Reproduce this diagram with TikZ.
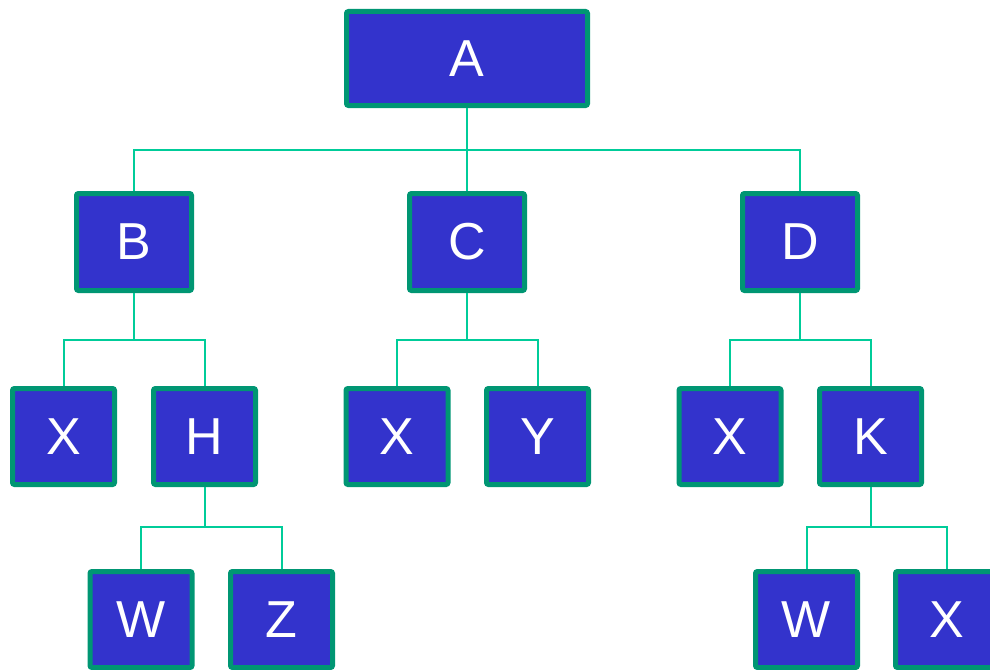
\documentclass[tikz,border=0pt]{standalone}
\usepackage{fontspec}
\setmainfont{Liberation Sans}
\definecolor{boxfill}{RGB}{51,51,204}
\definecolor{boxedge}{RGB}{0,150,115}
\definecolor{wire}{RGB}{0,204,153}
\begin{document}
\begin{tikzpicture}[x=1pt,y=-1pt,
  tnode/.style={draw=boxedge,fill=boxfill,line width=5pt,rounded corners=2pt,
    text=white,font=\fontsize{52}{52}\selectfont,inner sep=0pt,
    minimum height=96pt},
  wide/.style={tnode,minimum width=241pt,minimum height=94pt},
  mid/.style={tnode,minimum width=115pt,minimum height=97pt},
  small/.style={tnode,minimum width=102pt},
  link/.style={draw=wire,line width=2pt}]
\useasboundingbox (0,0) rectangle (990,669);
\clip (0,0) rectangle (990,669);
% level 1
\node[wide] (a) at (467,58.5) {A};
% level 2
\node[mid] (b) at (134,242) {B};
\node[mid] (c) at (467,242) {C};
\node[mid] (d) at (800,242) {D};
% level 3
\node[small] (bx) at (63.5,436.5) {X};
\node[small] (bh) at (204.5,436.5) {H};
\node[small] (cx) at (397,436.5) {X};
\node[small] (cy) at (537.5,436.5) {Y};
\node[small] (dx) at (730,436.5) {X};
\node[small] (dk) at (870.5,436.5) {K};
% level 4
\node[small] (hw) at (141,619.5) {W};
\node[small] (hz) at (281.5,619.5) {Z};
\node[small] (kw) at (806.5,619.5) {W};
\node[small] (kx) at (946.5,619.5) {X};
% connectors
\draw[link] (a.south) -- ++(0,42) -| (b.north);
\draw[link] (a.south) -- ++(0,42) -| (d.north);
\draw[link] (a.south) -- (c.north);
\draw[link] (b.south) -- ++(0,46.5) -| (bx.north);
\draw[link] (b.south) -- ++(0,46.5) -| (bh.north);
\draw[link] (c.south) -- ++(0,46.5) -| (cx.north);
\draw[link] (c.south) -- ++(0,46.5) -| (cy.north);
\draw[link] (d.south) -- ++(0,46.5) -| (dx.north);
\draw[link] (d.south) -- ++(0,46.5) -| (dk.north);
\draw[link] (bh.south) -- ++(0,40) -| (hw.north);
\draw[link] (bh.south) -- ++(0,40) -| (hz.north);
\draw[link] (dk.south) -- ++(0,40) -| (kw.north);
\draw[link] (dk.south) -- ++(0,40) -| (kx.north);
\end{tikzpicture}
\end{document}
